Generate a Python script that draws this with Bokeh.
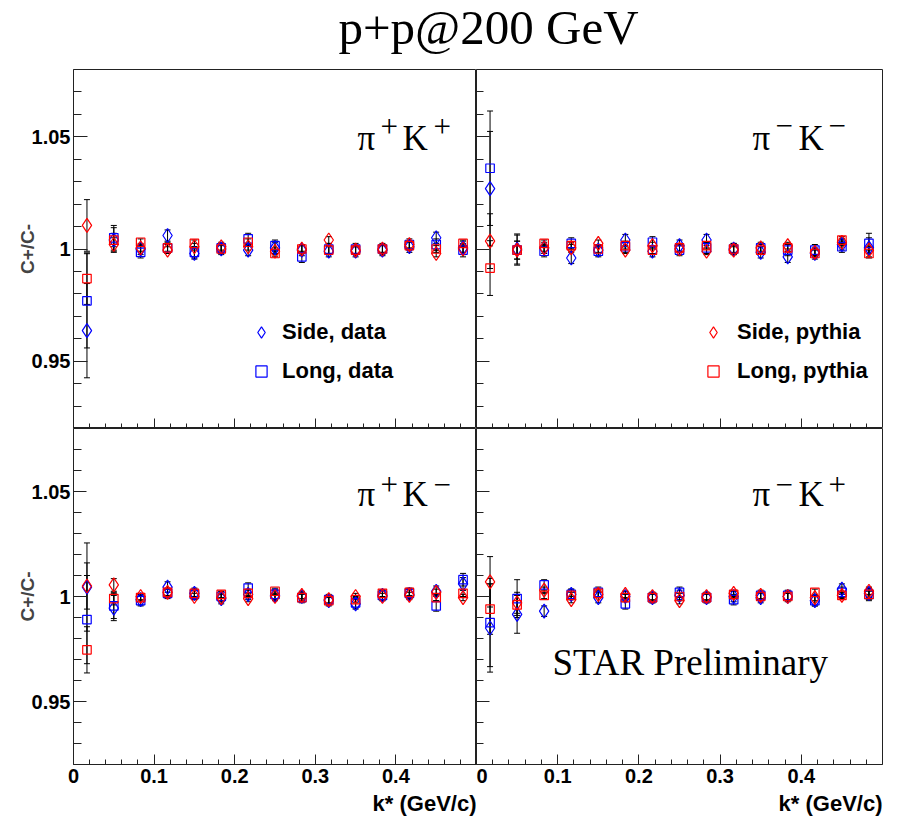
from bokeh.plotting import figure
from bokeh.models import (FixedTicker, Label, Legend, LegendItem, Whisker, TeeHead,
                          ColumnDataSource, Range1d, Title)
from bokeh.layouts import column, row
from bokeh.embed import file_html
from bokeh.resources import INLINE

# ---------------- data ----------------
kstar = [0.0167, 0.05, 0.0833, 0.1167, 0.15, 0.1833, 0.2167, 0.25,
         0.2833, 0.3167, 0.35, 0.3833, 0.4167, 0.45, 0.4833]

# pi+K+
ppkp_side_data = [0.9636, 1.004, 1.000, 1.006, 0.998, 1.000, 0.9995, 1.0005, 0.9995, 0.999, 0.999, 0.9995, 1.001, 1.005, 1.0005]
ppkp_long_data = [0.9769, 1.005, 0.9985, 1.0005, 0.9985, 1.0005, 1.0045, 1.0015, 0.9965, 1.000, 1.000, 1.000, 1.002, 1.002, 0.9995]
ppkp_side_pythia = [1.0105, 1.002, 1.0005, 0.9995, 1.001, 1.001, 1.001, 0.999, 1.000, 1.004, 0.9995, 1.000, 1.002, 0.998, 1.000]
ppkp_long_pythia = [0.9868, 1.004, 1.003, 1.0005, 1.0025, 1.000, 1.003, 0.998, 1.000, 0.9995, 0.9995, 1.000, 1.0015, 1.000, 1.0025]
ppkp_err_data = [0.021, 0.0055, 0.0025, 0.0025, 0.0025, 0.0025, 0.0025, 0.0025, 0.0025, 0.0025, 0.0025, 0.0025, 0.0025, 0.0025, 0.003]
ppkp_err_pythia = [0.0115, 0.003, 0.0015, 0.0015, 0.0015, 0.0015, 0.0015, 0.0015, 0.0015, 0.0015, 0.0015, 0.0015, 0.0015, 0.0015, 0.0015]

# pi-K-
pmkm_side_data = [1.0269, 1.000, 1.0005, 0.996, 0.9995, 1.004, 0.999, 1.0015, 1.004, 1.000, 0.9985, 0.9965, 0.998, 1.002, 1.0005]
pmkm_long_data = [1.036, 0.9995, 0.999, 1.0025, 0.999, 1.001, 1.003, 0.9995, 1.0005, 1.000, 1.0005, 0.9995, 0.9995, 1.001, 1.0025]
pmkm_side_pythia = [1.0035, 0.9995, 1.0005, 1.0005, 1.0025, 0.9995, 1.0015, 1.000, 0.999, 0.9995, 1.0005, 1.0015, 0.9985, 1.003, 0.9995]
pmkm_long_pythia = [0.9915, 0.9995, 1.0025, 1.0015, 1.000, 1.0015, 0.9995, 1.0005, 1.0015, 1.000, 0.9995, 1.0005, 0.998, 1.004, 0.998]
pmkm_err_data = [0.0255, 0.0067, 0.0025, 0.0025, 0.0025, 0.0025, 0.0025, 0.0025, 0.0025, 0.0025, 0.0025, 0.0025, 0.0025, 0.0025, 0.0045]
pmkm_err_pythia = [0.0122, 0.004, 0.0015, 0.0015, 0.0015, 0.0015, 0.0015, 0.0015, 0.0015, 0.0015, 0.0015, 0.0015, 0.0015, 0.0015, 0.0015]

# pi+K-
ppkm_side_data = [1.0045, 0.9945, 0.9985, 1.0045, 1.0015, 0.999, 1.001, 1.0005, 1.000, 0.998, 0.9965, 1.0005, 1.001, 1.0025, 1.006]
ppkm_long_data = [0.989, 0.9955, 0.998, 1.0015, 1.001, 1.000, 1.004, 1.001, 0.9995, 0.9985, 0.997, 1.0005, 1.0015, 0.9955, 1.008]
ppkm_side_pythia = [1.005, 1.0055, 1.000, 1.002, 1.000, 0.9995, 0.999, 1.000, 1.0005, 0.9985, 1.000, 1.000, 1.0005, 1.002, 0.9995]
ppkm_long_pythia = [0.9746, 0.999, 0.9995, 1.002, 1.0015, 1.001, 1.0015, 1.0025, 0.9995, 0.998, 0.9985, 1.0015, 1.002, 0.9995, 1.0015]
ppkm_err_data = [0.021, 0.006, 0.0025, 0.0025, 0.0025, 0.0025, 0.0025, 0.0025, 0.0025, 0.0025, 0.0025, 0.0025, 0.0025, 0.0025, 0.003]
ppkm_err_pythia = [0.011, 0.003, 0.0015, 0.0015, 0.0015, 0.0015, 0.0015, 0.0015, 0.0015, 0.0015, 0.0015, 0.0015, 0.0015, 0.0015, 0.0015]

# pi-K+
pmkp_side_data = [0.985, 0.9915, 0.993, 1.001, 0.9995, 1.000, 0.9995, 1.0005, 0.9995, 1.000, 0.9995, 1.000, 0.998, 1.0035, 1.0015]
pmkp_long_data = [0.9876, 0.999, 1.0055, 1.001, 1.002, 0.9965, 0.9995, 1.002, 0.9995, 0.9985, 1.0005, 1.0005, 0.998, 1.002, 1.001]
pmkp_side_pythia = [1.007, 0.997, 1.003, 0.9985, 1.001, 1.001, 1.000, 0.998, 1.000, 1.0015, 1.0005, 1.000, 0.9995, 1.0005, 1.0025]
pmkp_long_pythia = [0.994, 0.996, 1.0005, 1.0005, 1.0015, 0.9995, 0.9995, 1.000, 0.9995, 1.001, 1.000, 1.000, 1.002, 1.0005, 1.001]
pmkp_err_data = [0.021, 0.009, 0.0025, 0.0025, 0.0025, 0.0025, 0.0025, 0.0025, 0.0025, 0.0025, 0.0025, 0.0025, 0.0025, 0.0025, 0.003]
pmkp_err_pythia = [0.012, 0.005, 0.0015, 0.0015, 0.0015, 0.0015, 0.0015, 0.0015, 0.0015, 0.0015, 0.0015, 0.0015, 0.0015, 0.0015, 0.0015]

x_major = [0, 0.1, 0.2, 0.3, 0.4]
x_minor = [0.02, 0.04, 0.06, 0.08, 0.12, 0.14, 0.16, 0.18, 0.22, 0.24, 0.26, 0.28,
           0.32, 0.34, 0.36, 0.38, 0.42, 0.44, 0.46, 0.48]
x_labels = {0: "0", 0.1: "0.1", 0.2: "0.2", 0.3: "0.3", 0.4: "0.4"}
y_major = [0.95, 1.0, 1.05]
y_minor = [0.93, 0.94, 0.96, 0.97, 0.98, 0.99, 1.01, 1.02, 1.03, 1.04, 1.06, 1.07]
y_labels = {0.95: "0.95", 1.0: "1", 1.05: "1.05"}

BLUE = "#0000ff"
RED = "#ff0000"
AXC = "#222222"
SANS = "Liberation Sans"
SERIF = "Liberation Serif"


def hide_labels(ax):
    ax.major_label_text_color = None
    ax.major_label_text_alpha = 0
    ax.major_label_text_font_size = "0px"
    ax.major_label_standoff = 0


def panel(sd, ld, sp, lp, ed, ep, left, bottom, frame_h, ytick):
    p = figure(frame_width=406 if not left else 403, frame_height=frame_h,
               x_range=Range1d(0, 0.5), y_range=Range1d(0.92, 1.08), title=None,
               toolbar_location=None, output_backend="svg",
               min_border_left=73 if left else 0, min_border_right=0 if left else 10,
               min_border_top=0, min_border_bottom=0)
    p.grid.visible = False
    p.outline_line_color = AXC
    p.outline_line_width = 1
    p.background_fill_color = "white"
    p.border_fill_color = "white"

    xa = p.xaxis[0]
    xa.ticker = FixedTicker(ticks=x_major, minor_ticks=x_minor)
    xa.major_label_overrides = x_labels
    xa.major_tick_in = 10
    xa.major_tick_out = 0
    xa.minor_tick_in = 5
    xa.minor_tick_out = 0
    xa.axis_line_color = AXC
    xa.major_tick_line_color = AXC
    xa.minor_tick_line_color = AXC
    xa.major_label_text_font = SANS
    xa.major_label_text_font_style = "bold"
    xa.major_label_text_color = "black"
    if bottom:
        xa.major_label_text_font_size = "20px"
        xa.major_label_standoff = 4
    else:
        hide_labels(xa)

    ya = p.yaxis[0]
    ya.ticker = FixedTicker(ticks=y_major, minor_ticks=y_minor)
    ya.major_label_overrides = y_labels
    ya.major_tick_in = ytick[0]
    ya.major_tick_out = 0
    ya.minor_tick_in = ytick[1]
    ya.minor_tick_out = 0
    ya.axis_line_color = AXC
    ya.major_tick_line_color = AXC
    ya.minor_tick_line_color = AXC
    ya.major_label_text_font = SANS
    ya.major_label_text_font_style = "bold"
    ya.major_label_text_color = "black"
    if left:
        ya.major_label_text_font_size = "20px"
        ya.major_label_standoff = 3
        ya.axis_label = "C+/C-"
        ya.axis_label_text_font = SANS
        ya.axis_label_text_font_style = "bold"
        ya.axis_label_text_font_size = "19px"
        ya.axis_label_standoff = -9
    else:
        hide_labels(ya)

    xs = kstar * 4
    vals = sd + ld + sp + lp
    errs = ed + ed + ep + ep
    src = ColumnDataSource(dict(x=xs, lo=[v - e for v, e in zip(vals, errs)],
                                hi=[v + e for v, e in zip(vals, errs)]))
    w = Whisker(base="x", lower="lo", upper="hi", source=src, line_color="black",
                line_width=1, level="underlay",
                upper_head=TeeHead(size=6, line_color="black", line_width=1),
                lower_head=TeeHead(size=6, line_color="black", line_width=1))
    p.add_layout(w)

    r_sd = p.scatter(kstar, sd, marker="diamond", size=14, fill_color=None,
                     line_color=BLUE, line_width=1.2)
    r_ld = p.scatter(kstar, ld, marker="square", size=8.5, fill_color=None,
                     line_color=BLUE, line_width=1.2)
    r_sp = p.scatter(kstar, sp, marker="diamond", size=14, fill_color=None,
                     line_color=RED, line_width=1.2)
    r_lp = p.scatter(kstar, lp, marker="square", size=8.5, fill_color=None,
                     line_color=RED, line_width=1.2)

    if bottom:
        p.add_layout(Title(text="k* (GeV/c)", align="right", text_font=SANS,
                           text_font_style="bold", text_font_size="22px",
                           text_color="black", standoff=7, offset=0), "below")
    return p, (r_sd, r_ld, r_sp, r_lp)


def add_legend(p, items, loc, standoff):
    leg = Legend(items=[LegendItem(label=t, renderers=[r]) for t, r in items],
                 location=loc, glyph_width=28, glyph_height=28, spacing=11,
                 label_standoff=standoff, padding=0, margin=0,
                 border_line_color=None, background_fill_alpha=0,
                 label_text_font=SANS, label_text_font_style="bold",
                 label_text_font_size="22px", label_text_color="black")
    p.add_layout(leg)


def add_pair_label(p, parts, base_y, sup_y):
    for t, x, sup in parts:
        p.add_layout(Label(x=x, y=sup_y if sup else base_y, text=t,
                           text_font=SERIF, text_font_size="31px" if sup else "35px",
                           text_color="black", text_baseline="middle",
                           text_align="left"))


tl, r_tl = panel(ppkp_side_data, ppkp_long_data, ppkp_side_pythia, ppkp_long_pythia,
                 ppkp_err_data, ppkp_err_pythia, True, False, 359, (14, 8))
tr, r_tr = panel(pmkm_side_data, pmkm_long_data, pmkm_side_pythia, pmkm_long_pythia,
                 pmkm_err_data, pmkm_err_pythia, False, False, 359, (13, 7))
bl, r_bl = panel(ppkm_side_data, ppkm_long_data, ppkm_side_pythia, ppkm_long_pythia,
                 ppkm_err_data, ppkm_err_pythia, True, True, 336, (13, 8))
br, r_br = panel(pmkp_side_data, pmkp_long_data, pmkp_side_pythia, pmkp_long_pythia,
                 pmkp_err_data, pmkp_err_pythia, False, True, 336, (13, 7))

add_legend(tl, [("Side, data", r_tl[0]), ("Long, data", r_tl[1])], (174, 43), 7)
add_legend(tr, [("Side, pythia", r_tr[2]), ("Long, pythia", r_tr[3])], (223, 43), 10)

PLUS = "+"
MINUS = "\u2212"
add_pair_label(tl, [("\u03c0", 0.3524, False), (PLUS, 0.3809, True),
                    ("K", 0.4082, False), (PLUS, 0.4467, True)], 1.0492, 1.0546)
add_pair_label(tr, [("\u03c0", 0.3399, False), (MINUS, 0.3682, True),
                    ("K", 0.3966, False), (MINUS, 0.4335, True)], 1.0492, 1.0550)
add_pair_label(bl, [("\u03c0", 0.3524, False), (PLUS, 0.3809, True),
                    ("K", 0.4082, False), (MINUS, 0.4467, True)], 1.0486, 1.0531)
add_pair_label(br, [("\u03c0", 0.3399, False), (MINUS, 0.3682, True),
                    ("K", 0.3966, False), (PLUS, 0.4335, True)], 1.0486, 1.0531)

br.add_layout(Label(x=0.0936, y=0.9686, text="STAR Preliminary", text_font=SERIF,
                    text_font_size="37px", text_color="black", text_baseline="middle"))

TOTAL_W = 892
HEAD_H = 69
header = figure(width=TOTAL_W, height=HEAD_H, x_range=Range1d(0, TOTAL_W), y_range=Range1d(0, HEAD_H),
                title=None, toolbar_location=None, output_backend="svg", min_border=0,
                x_axis_location=None, y_axis_location=None)
header.outline_line_color = None
header.grid.visible = False
header.add_layout(Label(x=488, y=42, text="p+p@200 GeV", text_font=SERIF,
                        text_font_size="49px", text_color="black", text_align="center",
                        text_baseline="middle"))

layout = column(header, row(tl, tr), row(bl, br))

with open("out.html", "w") as f:
    f.write(file_html(layout, INLINE, title="p+p@200 GeV"))
